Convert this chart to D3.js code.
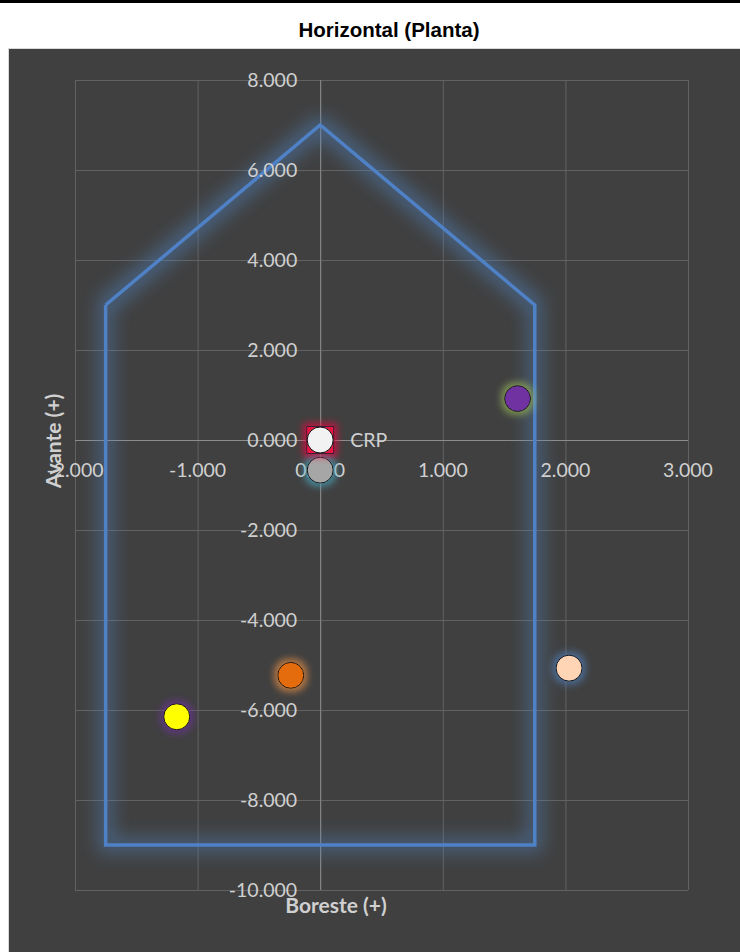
<!DOCTYPE html>
<html>
<head>
<meta charset="utf-8">
<script src="https://cdn.jsdelivr.net/npm/d3@7"></script>
<style>
  body { margin: 0; background: #fff; }
  svg { display: block; }
</style>
</head>
<body>
<svg></svg>
<script>
const size = {w: 740, h: 952};
const plot = {l: 75, r: 688, t: 80, b: 890};

// data
const xTicks = [-2, -1, 0, 1, 2, 3];
const yTicks = [8, 6, 4, 2, 0, -2, -4, -6, -8, -10];
const hullX = [-1.75, 0, 1.75, 1.75, -1.75, -1.75];
const hullY = [3, 7, 3, -9, -9, 3];
const pointNames = ['gray', 'purple', 'peach', 'orange', 'yellow', 'CRP'];
const pointX = [0, 1.61, 2.03, -0.24, -1.17, 0];
const pointY = [-0.67, 0.92, -5.07, -5.23, -6.15, 0];
const pointFill = ['#a6a6a6', '#7030a0', '#ffd5b5', '#e46c0a', '#ffff00', '#f2f2f2'];
const pointGlow = ['#4bacc6', '#9bbb59', '#4f81bd', '#f79646', '#7030a0', '#ff0040'];

const svg = d3.select('svg').attr('width', size.w).attr('height', size.h);

const x = d3.scaleLinear().domain([-2, 3]).range([plot.l, plot.r]);
const y = d3.scaleLinear().domain([-10, 8]).range([plot.b, plot.t]);

const fmt = d => d3.format(',.3f')(d).replace('−', '-');

// top bar + title
svg.append('rect').attr('x', 0).attr('y', 0).attr('width', size.w).attr('height', 3).attr('fill', '#000');
svg.append('text')
    .attr('x', 389).attr('y', 37)
    .attr('text-anchor', 'middle')
    .style('font', 'bold 20.5px "Liberation Sans", Arial, sans-serif')
    .text('Horizontal (Planta)');

// chart area
svg.append('rect')
    .attr('x', 8.5).attr('y', 48.5)
    .attr('width', size.w - 8).attr('height', size.h - 48)
    .attr('fill', '#404040')
    .attr('stroke', '#d9d9d9');

const defs = svg.append('defs');
const glow = (id, color, dev, op, grow) => {
    let f = defs.append('filter').attr('id', id)
        .attr('x', '-60%').attr('y', '-60%').attr('width', '220%').attr('height', '220%');
    f.append('feFlood').attr('flood-color', color).attr('flood-opacity', op);
    f.append('feComposite').attr('in2', 'SourceAlpha').attr('operator', 'in');
    f.append('feMorphology').attr('operator', 'dilate').attr('radius', grow);
    f.append('feGaussianBlur').attr('stdDeviation', dev).attr('result', 'g');
    let m = f.append('feMerge');
    m.append('feMergeNode').attr('in', 'g');
    m.append('feMergeNode').attr('in', 'SourceGraphic');
};
glow('hullGlow', '#4f81bd', 9, 0.55, 5);
pointGlow.forEach((c, i) => glow('pg' + i, c, 3.5, 0.65, 3));

// gridlines
let grid = svg.append('g').attr('stroke', '#626262').attr('stroke-width', 1);
grid.selectAll('.vx').data(xTicks).enter().append('line')
    .attr('x1', d => x(d) + 0.5).attr('x2', d => x(d) + 0.5)
    .attr('y1', plot.t).attr('y2', plot.b);
grid.selectAll('.hy').data(yTicks).enter().append('line')
    .attr('y1', d => y(d) + 0.5).attr('y2', d => y(d) + 0.5)
    .attr('x1', plot.l).attr('x2', plot.r);

// zero axes
svg.append('line').attr('x1', x(0) + 0.5).attr('x2', x(0) + 0.5)
    .attr('y1', plot.t).attr('y2', plot.b).attr('stroke', '#8c8c8c');
svg.append('line').attr('y1', y(0) + 0.5).attr('y2', y(0) + 0.5)
    .attr('x1', plot.l).attr('x2', plot.r).attr('stroke', '#8c8c8c');

// boat outline
const hull = hullX.map((d, i) => [x(d), y(hullY[i])]);
svg.append('path')
    .attr('d', d3.line()(hull))
    .attr('fill', 'none')
    .attr('stroke', '#4f81c7')
    .attr('stroke-width', 3.5)
    .attr('stroke-linejoin', 'miter')
    .attr('filter', 'url(#hullGlow)');

// tick labels
const labelFont = '19.5px Lato, "Open Sans", sans-serif';
svg.append('g').selectAll('text').data(yTicks).enter().append('text')
    .attr('x', x(0) - 23).attr('y', d => y(d) + 7)
    .attr('text-anchor', 'end')
    .attr('fill', '#d0d0d0')
    .style('font', labelFont)
    .text(fmt);
svg.append('g').selectAll('text').data(xTicks).enter().append('text')
    .attr('x', d => x(d)).attr('y', y(0) + 37)
    .attr('text-anchor', 'middle')
    .attr('fill', '#d0d0d0')
    .style('font', labelFont)
    .text(fmt);

// points
let pts = svg.append('g');
pointNames.forEach((n, i) => {
    let g = pts.append('g').attr('filter', 'url(#pg' + i + ')');
    if (n === 'CRP') {
        g.append('rect')
            .attr('x', x(pointX[i]) - 13.5).attr('y', y(pointY[i]) - 13.5)
            .attr('width', 27).attr('height', 27)
            .attr('fill', '#e8173f').attr('stroke', '#3a1a3a');
    }
    g.append('circle')
        .attr('cx', x(pointX[i])).attr('cy', y(pointY[i]))
        .attr('r', 13)
        .attr('fill', pointFill[i])
        .attr('stroke', '#111').attr('stroke-width', 1);
});
svg.append('text')
    .attr('x', x(0) + 30).attr('y', y(0) + 7)
    .attr('fill', '#d0d0d0')
    .style('font', labelFont)
    .text('CRP');

// axis titles
svg.append('text')
    .attr('transform', 'translate(61,441) rotate(-90)')
    .attr('text-anchor', 'middle')
    .attr('fill', '#d0d0d0')
    .style('font', 'bold 21px Lato, "Open Sans", sans-serif')
    .text('Avante (+)');
svg.append('text')
    .attr('x', 336).attr('y', 913)
    .attr('text-anchor', 'middle')
    .attr('fill', '#d0d0d0')
    .style('font', 'bold 21px Lato, "Open Sans", sans-serif')
    .text('Boreste (+)');
</script>
</body>
</html>
